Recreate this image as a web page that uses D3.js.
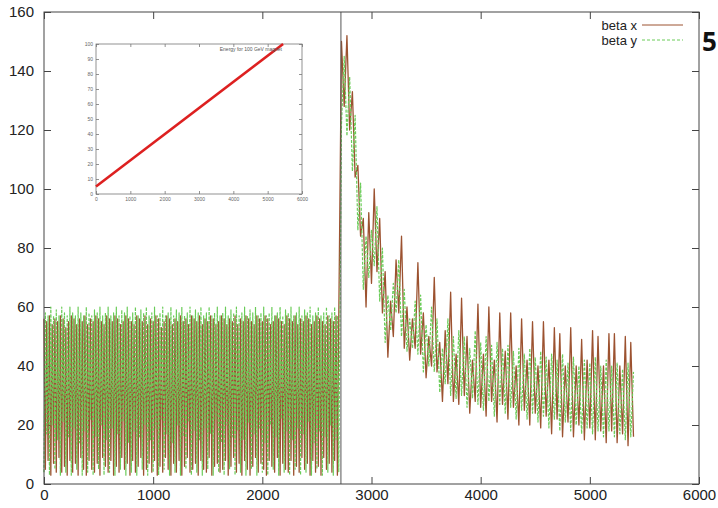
<!DOCTYPE html>
<html>
<head>
<meta charset="utf-8">
<script src="https://cdn.jsdelivr.net/npm/d3@7"></script>
<style>
  body { margin: 0; background: #fff; }
  text { font-family: "Liberation Sans", Arial, sans-serif; }
</style>
</head>
<body>
<svg id="chart" width="718" height="508"></svg>
<script>
// Injection plateau: beta sampled every 12.5 turns, turns 0..2700
const plateauStep = 12.5;
const betaXPlateau = [
  56,5,55,8,57,3,54,7,56,4,
  55,9,57,4,56,6,53,3,55,8,
  57,4,56,7,54,3,56,9,55,5,
  57,3,54,8,56,5,55,4,57,7,
  56,3,55,9,54,6,57,4,56,8,
  55,3,57,6,56,4,54,9,55,5,
  57,7,56,3,55,8,54,4,57,6,
  56,9,55,3,57,5,54,7,56,4,
  55,8,57,3,56,6,53,4,55,9,
  57,5,56,3,54,7,56,4,55,8,
  57,3,55,6,56,9,54,4,57,5,
  56,7,55,3,57,8,54,5,56,4,
  55,9,57,3,56,6,54,7,55,4,
  57,5,56,8,54,3,56,6,55,9,
  57,4,54,7,56,3,55,8,57,5,
  56,3,55,6,54,9,57,4,56,7,
  55,5,57,3,56,8,54,6,55,4,
  57,9,56,3,55,7,54,5,57,4,
  56,8,55,3,57,6,54,4,56,9,
  55,5,57,7,56,3,54,8,55,4,
  57,6,56,3,55,9,54,5,57,7,
  56,4,55,8,57,3,55
];
const betaYPlateau = [
  4,58,17,57,3,60,20,57,5,59,
  15,57,3,60,21,58,4,57,16,60,
  3,58,19,57,5,60,14,58,3,57,
  18,60,4,58,22,57,3,59,16,58,
  5,60,20,57,3,58,15,60,4,57,
  19,58,3,60,17,57,5,59,21,58,
  3,60,14,57,4,58,18,60,3,57,
  16,59,5,58,20,60,3,57,15,58,
  4,60,19,57,3,58,22,60,5,57,
  17,58,3,60,14,57,4,59,20,58,
  3,60,16,57,5,58,21,60,3,57,
  18,59,4,58,15,60,3,57,19,58,
  5,60,17,57,3,58,22,60,4,57,
  14,58,3,60,20,57,5,59,16,58,
  3,60,18,57,4,58,15,60,3,57,
  21,59,5,58,17,60,3,57,19,58,
  4,60,14,57,3,58,20,60,5,57,
  16,58,3,60,22,57,4,59,18,58,
  3,60,15,57,5,58,19,60,3,57,
  17,59,4,58,21,60,3,57,14,58,
  5,60,18,57,3,58,16,60,4,57,
  20,58,3,60,15,57,4
];

// Energy ramp: beta sampled every 25 turns, turns 2725..5400
const rampStart = 2725;
const rampStep = 25;
const betaXRamp = [
  150,128,152,120,133,104,108,84,90,60,
  92,68,100,72,90,58,72,43,62,50,
  76,58,84,46,60,42,56,46,75,44,
  58,36,50,40,70,38,48,28,52,34,
  65,28,44,27,63,30,50,24,42,28,
  61,26,44,23,60,28,42,21,58,27,
  45,22,58,26,40,20,56,25,42,20,
  55,24,40,19,55,23,42,17,53,22,
  51,16,40,21,53,16,40,20,49,15,
  42,19,52,15,50,18,40,14,51,18,
  51,14,40,17,50,13,48,16
];
const betaYRamp = [
  122,145,118,138,106,125,86,102,66,84,
  70,86,74,94,62,80,48,64,52,68,
  58,76,50,66,45,56,46,62,44,64,
  38,54,40,60,38,56,31,46,34,56,
  30,50,29,52,30,50,26,46,29,52,
  27,48,25,50,28,47,23,48,27,46,
  24,47,26,45,22,46,25,44,22,46,
  24,43,21,45,23,43,19,44,22,42,
  18,44,21,41,18,43,20,40,17,42,
  19,41,17,43,18,40,16,42,18,40,
  16,41,17,39,15,41,16,38
];

const seriesNames = ["beta x", "beta y"];
const seriesColors = ["#9c5230", "#6acc58"];

const xTicks = [0, 1000, 2000, 3000, 4000, 5000, 6000];
const yTicks = [0, 20, 40, 60, 80, 100, 120, 140, 160];
const rampStartTurn = 2720;

// Inset: magnet energy during the ramp
const energyTurns = [0, 5450];
const energyGeV = [5, 100];
const insetXTicks = [0, 1000, 2000, 3000, 4000, 5000, 6000];
const insetYTicks = [0, 10, 20, 30, 40, 50, 60, 70, 80, 90, 100];
const insetLabel = "Energy for 100 GeV magnet";

const pageNumber = "5";

// (turn, beta) pairs for each plane
function toPoints(plateau, ramp) {
  return plateau.map((v, i) => [i * plateauStep, v])
    .concat(ramp.map((v, i) => [rampStart + i * rampStep, v]));
}
const betaX = toPoints(betaXPlateau, betaXRamp);
const betaY = toPoints(betaYPlateau, betaYRamp);

const svg = d3.select("#chart");
svg.append("rect").attr("width", 718).attr("height", 508).attr("fill", "#fff");

const x = d3.scaleLinear().domain([0, 6000]).range([44, 699]);
const y = d3.scaleLinear().domain([0, 160]).range([484, 12]);

const axisColor = "#444";
const tick = 7;

function styleAxis(g, showText) {
  g.select(".domain").remove();
  g.selectAll(".tick line").attr("stroke", axisColor);
  g.selectAll(".tick text")
    .attr("fill", "#222")
    .style("font-size", "15px")
    .style("display", showText ? null : "none");
}

svg.append("g").attr("transform", "translate(0,484)")
  .call(d3.axisBottom(x).tickValues(xTicks).tickFormat(d3.format("d")).tickSizeInner(-tick).tickSizeOuter(0).tickPadding(5))
  .call(g => styleAxis(g, true));
svg.append("g").attr("transform", "translate(0,12)")
  .call(d3.axisTop(x).tickValues(xTicks).tickSizeInner(-tick).tickSizeOuter(0))
  .call(g => styleAxis(g, false));
svg.append("g").attr("transform", "translate(44,0)")
  .call(d3.axisLeft(y).tickValues(yTicks).tickSizeInner(-tick).tickSizeOuter(0).tickPadding(10))
  .call(g => styleAxis(g, true));
svg.append("g").attr("transform", "translate(699,0)")
  .call(d3.axisRight(y).tickValues(yTicks).tickSizeInner(-tick).tickSizeOuter(0))
  .call(g => styleAxis(g, false));

// Beta traces
const line = d3.line()
  .x(d => x(d[0]))
  .y(d => y(d[1]));

svg.append("path").datum(betaX)
  .attr("d", line)
  .attr("fill", "none")
  .attr("stroke", seriesColors[0])
  .attr("stroke-width", 1.3)
  .attr("stroke-linejoin", "round");

svg.append("path").datum(betaY)
  .attr("d", line)
  .attr("fill", "none")
  .attr("stroke", seriesColors[1])
  .attr("stroke-width", 1.2)
  .attr("stroke-linejoin", "round")
  .attr("stroke-dasharray", "3,1.5");

// Start of the ramp
svg.append("line")
  .attr("x1", x(rampStartTurn)).attr("x2", x(rampStartTurn))
  .attr("y1", y(0)).attr("y2", y(160))
  .attr("stroke", "#555").attr("stroke-width", 1);

// Frame
svg.append("rect")
  .attr("x", x(0)).attr("y", y(160))
  .attr("width", x(6000) - x(0)).attr("height", y(0) - y(160))
  .attr("fill", "none").attr("stroke", axisColor).attr("stroke-width", 1);

// Legend
const legend = svg.append("g");
seriesNames.forEach((name, i) => {
  const ly = 25 + i * 15;
  legend.append("text")
    .attr("x", 637).attr("y", ly + 4.5)
    .attr("text-anchor", "end")
    .style("font-size", "13px")
    .attr("fill", "#222")
    .text(name);
  legend.append("line")
    .attr("x1", 642).attr("x2", 683)
    .attr("y1", ly).attr("y2", ly)
    .attr("stroke", seriesColors[i])
    .attr("stroke-width", 1)
    .attr("stroke-dasharray", i === 1 ? "3,2" : null);
});

// Inset chart
const ix = d3.scaleLinear().domain([0, 6000]).range([96, 302]);
const iy = d3.scaleLinear().domain([0, 100]).range([194, 44]);
const inset = svg.append("g");
inset.append("rect")
  .attr("x", 96).attr("y", 44).attr("width", 206).attr("height", 150)
  .attr("fill", "#fff").attr("stroke", "#777").attr("stroke-width", 0.8);

function styleInset(g, showText) {
  g.select(".domain").remove();
  g.selectAll(".tick line").attr("stroke", "#777").attr("stroke-width", 0.8);
  g.selectAll(".tick text")
    .attr("fill", "#666")
    .style("font-size", "5px")
    .style("display", showText ? null : "none");
}
inset.append("g").attr("transform", "translate(0,194)")
  .call(d3.axisBottom(ix).tickValues(insetXTicks).tickFormat(d3.format("d")).tickSizeInner(-3).tickSizeOuter(0).tickPadding(3))
  .call(g => styleInset(g, true));
inset.append("g").attr("transform", "translate(0,44)")
  .call(d3.axisTop(ix).tickValues(insetXTicks).tickSizeInner(-3).tickSizeOuter(0))
  .call(g => styleInset(g, false));
inset.append("g").attr("transform", "translate(96,0)")
  .call(d3.axisLeft(iy).tickValues(insetYTicks).tickSizeInner(-3).tickSizeOuter(0).tickPadding(3))
  .call(g => styleInset(g, true));
inset.append("g").attr("transform", "translate(302,0)")
  .call(d3.axisRight(iy).tickValues(insetYTicks).tickSizeInner(-3).tickSizeOuter(0))
  .call(g => styleInset(g, false));

inset.append("path")
  .datum(energyTurns.map((t, i) => [t, energyGeV[i]]))
  .attr("d", d3.line().x(d => ix(d[0])).y(d => iy(d[1])))
  .attr("fill", "none")
  .attr("stroke", "#dd2020")
  .attr("stroke-width", 2.6);

inset.append("text")
  .attr("x", 282).attr("y", 51)
  .attr("text-anchor", "end")
  .style("font-size", "5px")
  .attr("fill", "#555")
  .text(insetLabel);

// Slide number at the right edge
svg.append("text")
  .attr("x", 702).attr("y", 51)
  .style("font-family", "'Open Sans', 'Liberation Sans', sans-serif")
  .style("font-weight", "bold")
  .style("font-size", "26px")
  .attr("fill", "#111")
  .text(pageNumber);
</script>
</body>
</html>
